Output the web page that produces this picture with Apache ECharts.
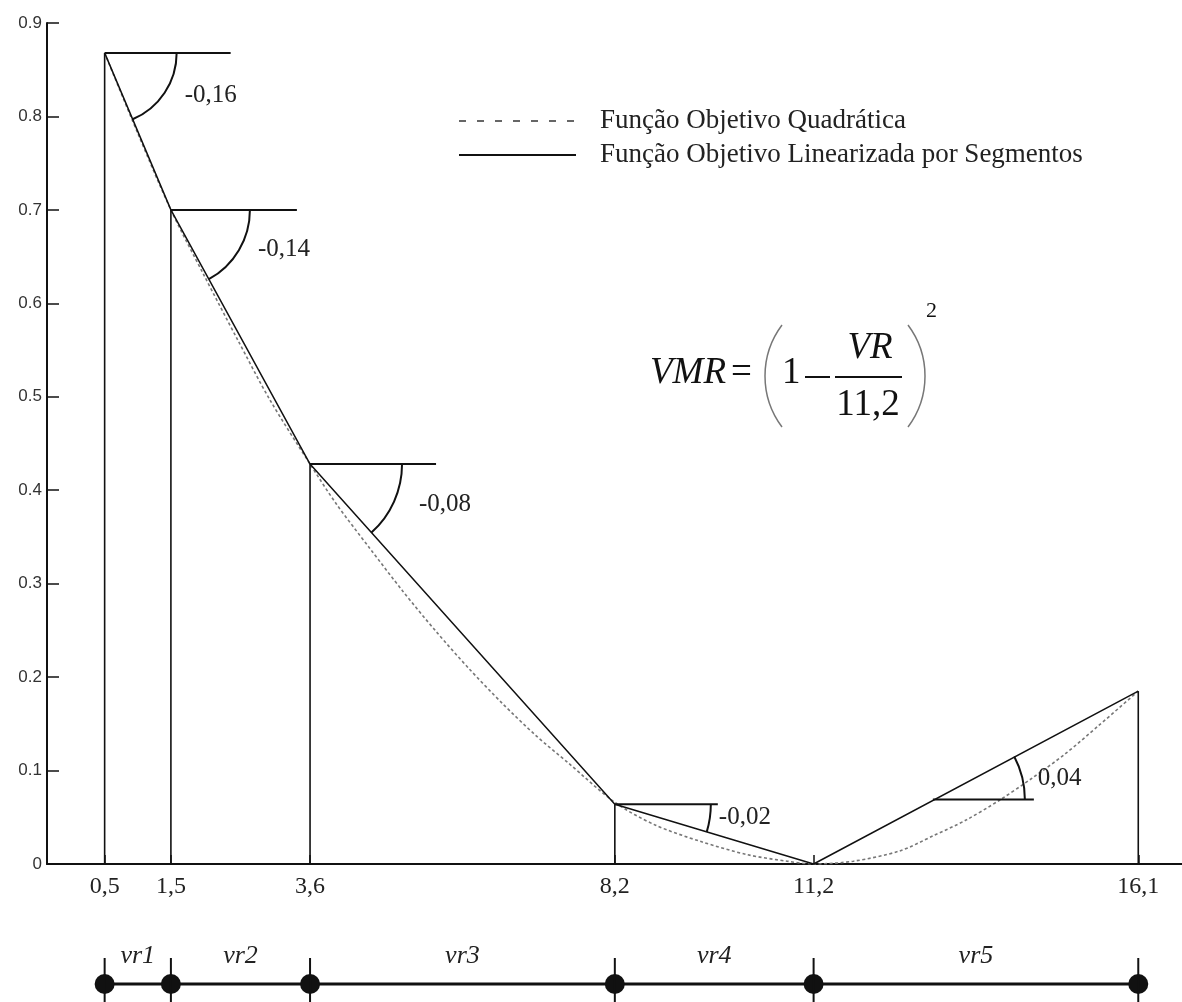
<!DOCTYPE html>
<html>
<head>
<meta charset="utf-8">
<script src="https://cdn.jsdelivr.net/npm/echarts@6/dist/echarts.min.js"></script>
<style>
html,body{margin:0;padding:0;background:#fff;}
#chart{width:1182px;height:1002px;}
</style>
</head>
<body>
<div id="chart"></div>
<script>
// ---------- data ----------
const breakX = [0.5, 1.5, 3.6, 8.2, 11.2, 16.1];
const breakY = [0.868, 0.700, 0.428, 0.064, 0.0, 0.185];

const quadX = [0.5, 1.0, 1.5, 2.0, 2.5, 3.0, 3.6, 4.0, 4.5, 5.0, 5.5, 6.0, 6.5, 7.0, 7.5, 8.2,
               8.8, 9.5, 10.2, 10.8, 11.2, 11.8, 12.5, 13.0, 13.5, 14.0, 14.5, 15.0, 15.5, 16.1];
const quadY = [0.868, 0.782, 0.700, 0.630, 0.562, 0.496, 0.428, 0.385, 0.338, 0.292, 0.249, 0.209, 0.172, 0.138, 0.108, 0.066,
               0.042, 0.024, 0.010, 0.003, 0.000, 0.003, 0.014, 0.030, 0.047, 0.068, 0.092, 0.118, 0.148, 0.185];

const slopeX = [0.5, 1.5, 3.6, 8.2, 13.0];
const slopeY = [0.868, 0.700, 0.428, 0.064, 0.069];
const slopeLabels = ['-0,16', '-0,14', '-0,08', '-0,02', '0,04'];

const intervalLabels = ['vr1', 'vr2', 'vr3', 'vr4', 'vr5'];

const yMin = 0, yMax = 0.9, yStep = 0.1;
const xMin = -0.37, xMax = 16.76;

const seriesNames = ['Função Objetivo Quadrática', 'Função Objetivo Linearizada por Segmentos'];

// ---------- styles ----------
const INK = '#111';
const SERIF = '"Liberation Serif", "DejaVu Serif", serif';
const annoStyle = [
  {len: 126, r: 72, dx: 80, dy: 43},
  {len: 126, r: 79, dx: 87, dy: 40},
  {len: 126, r: 92, dx: 109, dy: 40},
  {len: 103, r: 96, dx: 104, dy: 13},
  {len: 101, r: 92, dx: 105, dy: -21}
];

// derived tables
const quadData = quadX.map((x, i) => [x, quadY[i]]);
const segData = breakX.map((x, i) => [x, breakY[i]]);
const stemData = breakX.map((x, i) => [x, breakY[i]]).filter(d => d[1] > 0);
const slopeData = slopeX.map((x, i) => {
  let k = breakX.findIndex(b => b > x);
  return [x, slopeY[i], breakX[k], breakY[k]];
});
const lineData = breakX.map(x => [x, 0.5]);
const midData = intervalLabels.map((l, i) => [(breakX[i] + breakX[i + 1]) / 2, 0.5]);

const chart = echarts.init(document.getElementById('chart'), null, {renderer: 'canvas'});

const option = {
  animation: false,
  backgroundColor: '#fff',
  grid: [
    {left: 47, right: 0, top: 23, bottom: 138, outerBoundsMode: 'none'},
    {left: 47, right: 0, top: 966, height: 36, outerBoundsMode: 'none'}
  ],
  xAxis: [
    {
      type: 'value', gridIndex: 0, min: xMin, max: xMax,
      axisLine: {show: true, onZero: false, lineStyle: {color: INK, width: 2}},
      axisTick: {show: true, inside: true, length: 9, customValues: breakX, lineStyle: {color: INK, width: 1.5}},
      axisLabel: {
        customValues: breakX, margin: 11,
        formatter: v => String(v).replace('.', ','),
        fontFamily: SERIF, fontSize: 24, color: '#222'
      },
      splitLine: {show: false}
    },
    {type: 'value', gridIndex: 1, min: xMin, max: xMax, show: false}
  ],
  yAxis: [
    {
      type: 'value', gridIndex: 0, min: yMin, max: yMax, interval: yStep,
      axisLine: {show: true, onZero: false, lineStyle: {color: INK, width: 2}},
      axisTick: {show: true, inside: true, length: 12, lineStyle: {color: INK, width: 1.5}},
      axisLabel: {
        margin: 5, fontFamily: '"Liberation Sans", Arial, sans-serif', fontSize: 17, color: '#333',
        formatter: v => (Math.abs(v) < 1e-9 ? '0' : v.toFixed(1))
      },
      splitLine: {show: false}
    },
    {type: 'value', gridIndex: 1, min: 0, max: 1, show: false}
  ],
  legend: {
    orient: 'vertical', left: 453, top: 99,
    itemWidth: 117, itemHeight: 2, itemGap: 0,
    itemStyle: {opacity: 0},
    textStyle: {fontFamily: SERIF, fontSize: 27, color: '#222', lineHeight: 34, padding: [0, 0, 0, 19]},
    data: [
      {name: seriesNames[0], lineStyle: {type: [7, 11], color: '#666', width: 2}, itemStyle: {opacity: 0}},
      {name: seriesNames[1], lineStyle: {type: 'solid', color: INK, width: 2}, itemStyle: {opacity: 0}}
    ]
  },
  graphic: [
    {type: 'text', x: 650, y: 373.5, style: {text: 'VMR', font: 'italic 37px ' + SERIF, fill: INK, align: 'left', verticalAlign: 'middle'}},
    {type: 'text', x: 731, y: 373.5, style: {text: '=', font: '37px ' + SERIF, fill: INK, align: 'left', verticalAlign: 'middle'}},
    {type: 'arc', shape: {cx: 850, cy: 376, r: 85, startAngle: Math.PI - 0.6435, endAngle: Math.PI + 0.6435, clockwise: true}, style: {stroke: '#777', lineWidth: 1.5, fill: 'none'}},
    {type: 'text', x: 782, y: 373.5, style: {text: '1', font: '37px ' + SERIF, fill: INK, align: 'left', verticalAlign: 'middle'}},
    {type: 'line', shape: {x1: 805, y1: 377, x2: 830, y2: 377}, style: {stroke: INK, lineWidth: 2}},
    {type: 'line', shape: {x1: 835, y1: 377, x2: 902, y2: 377}, style: {stroke: INK, lineWidth: 2}},
    {type: 'text', x: 870, y: 348.5, style: {text: 'VR', font: 'italic 37px ' + SERIF, fill: INK, align: 'center', verticalAlign: 'middle'}},
    {type: 'text', x: 868, y: 405.5, style: {text: '11,2', font: '37px ' + SERIF, fill: INK, align: 'center', verticalAlign: 'middle'}},
    {type: 'arc', shape: {cx: 840, cy: 376, r: 85, startAngle: -0.6435, endAngle: 0.6435, clockwise: true}, style: {stroke: '#777', lineWidth: 1.5, fill: 'none'}},
    {type: 'text', x: 926, y: 311, style: {text: '2', font: '22px ' + SERIF, fill: INK, align: 'left', verticalAlign: 'middle'}}
  ],
  series: [
    {
      name: seriesNames[0], type: 'line', xAxisIndex: 0, yAxisIndex: 0,
      data: quadData, symbol: 'none', smooth: 0.3, silent: true, z: 2,
      itemStyle: {color: '#777'},
      lineStyle: {color: '#777', width: 1.6, type: [3, 2.5]}
    },
    {
      name: seriesNames[1], type: 'line', xAxisIndex: 0, yAxisIndex: 0,
      data: segData, symbol: 'none', silent: true, z: 3,
      itemStyle: {color: INK},
      lineStyle: {color: INK, width: 1.5}
    },
    {
      name: 'stems', type: 'custom', xAxisIndex: 0, yAxisIndex: 0, silent: true, z: 3,
      data: stemData, encode: {x: 0, y: 1},
      renderItem: (params, api) => {
        const top = api.coord([api.value(0), api.value(1)]);
        const bot = api.coord([api.value(0), 0]);
        return {type: 'line', shape: {x1: top[0], y1: top[1], x2: bot[0], y2: bot[1]}, style: {stroke: INK, lineWidth: 1.6}};
      }
    },
    {
      name: 'slopes', type: 'custom', xAxisIndex: 0, yAxisIndex: 0, silent: true, z: 4, clip: false,
      data: slopeData, encode: {x: 0, y: 1},
      renderItem: (params, api) => {
        const i = params.dataIndex;
        const s = annoStyle[i];
        const p = api.coord([api.value(0), api.value(1)]);
        const q = api.coord([api.value(2), api.value(3)]);
        const th = Math.atan2(q[1] - p[1], q[0] - p[0]);
        return {
          type: 'group',
          children: [
            {type: 'line', shape: {x1: p[0], y1: p[1], x2: p[0] + s.len, y2: p[1]}, style: {stroke: INK, lineWidth: 2}},
            {type: 'arc', shape: {cx: p[0], cy: p[1], r: s.r, startAngle: Math.min(0, th), endAngle: Math.max(0, th), clockwise: true},
             style: {stroke: INK, lineWidth: 2, fill: 'none'}},
            {type: 'text', x: p[0] + s.dx, y: p[1] + s.dy,
             style: {text: slopeLabels[i], font: '25px ' + SERIF, fill: '#222', align: 'left', verticalAlign: 'middle'}}
          ]
        };
      }
    },
    {
      name: 'numberLine', type: 'line', xAxisIndex: 1, yAxisIndex: 1,
      data: lineData, symbol: 'circle', symbolSize: 20, silent: true, z: 3,
      itemStyle: {color: INK}, lineStyle: {color: INK, width: 3}
    },
    {
      name: 'lineTicks', type: 'custom', xAxisIndex: 1, yAxisIndex: 1, silent: true, z: 4, clip: false,
      data: lineData, encode: {x: 0, y: 1},
      renderItem: (params, api) => {
        const p = api.coord([api.value(0), api.value(1)]);
        return {type: 'line', shape: {x1: p[0], y1: p[1] - 26, x2: p[0], y2: p[1] + 22}, style: {stroke: INK, lineWidth: 2}};
      }
    },
    {
      name: 'intervals', type: 'custom', xAxisIndex: 1, yAxisIndex: 1, silent: true, z: 4, clip: false,
      data: midData, encode: {x: 0, y: 1},
      renderItem: (params, api) => {
        const p = api.coord([api.value(0), api.value(1)]);
        return {type: 'text', x: p[0], y: p[1] - 28,
          style: {text: intervalLabels[params.dataIndex], font: 'italic 26px ' + SERIF, fill: '#222', align: 'center', verticalAlign: 'middle'}};
      }
    }
  ]
};
chart.setOption(option);
</script>
</body>
</html>
